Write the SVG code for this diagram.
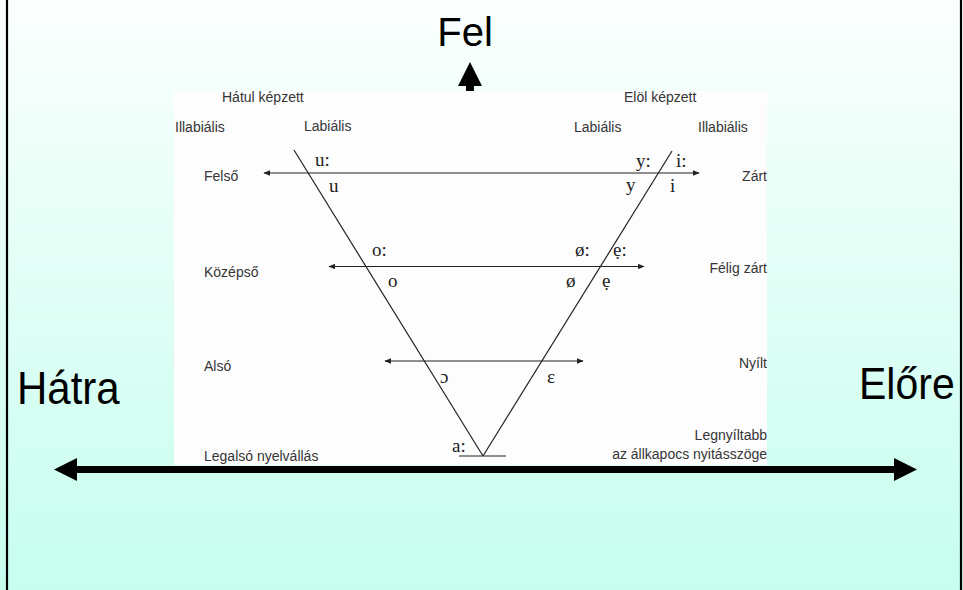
<svg xmlns="http://www.w3.org/2000/svg" width="963" height="590" viewBox="0 0 963 590">
  <defs>
    <linearGradient id="bg" x1="0" y1="0" x2="0" y2="1">
      <stop offset="0" stop-color="#fbfffe"/>
      <stop offset="1" stop-color="#c6feee"/>
    </linearGradient>
    <marker id="ah" viewBox="0 0 10 8" refX="9" refY="4" markerWidth="7" markerHeight="5.6" markerUnits="userSpaceOnUse" orient="auto-start-reverse">
      <path d="M0,0 L10,4 L0,8 z" fill="#222"/>
    </marker>
    <style>
      .lab { font-family: "Liberation Sans", Arial, sans-serif; font-size: 14px; fill: #353535; }
      .r { text-anchor: end; }
      .v { font-family: "Liberation Serif", "Times New Roman", serif; font-size: 19px; fill: #222; }
      .big { font-family: "Liberation Sans", Arial, sans-serif; fill: #000; }
      .thin { stroke: #222; stroke-width: 1.2; fill: none; }
      .arr { stroke: #222; stroke-width: 1.2; fill: none; marker-start: url(#ah); marker-end: url(#ah); }
    </style>
  </defs>

  <rect x="0" y="0" width="963" height="590" fill="url(#bg)"/>
  <line x1="7" y1="0" x2="7" y2="590" stroke="#000" stroke-width="2.2"/>
  <line x1="961" y1="0" x2="961" y2="590" stroke="#000" stroke-width="2.2"/>

  <rect x="174" y="91" width="593" height="374" fill="#fdfdfd"/>

  <g id="connectors">
    <line class="thin" x1="294" y1="150" x2="483" y2="456"/>
    <line class="thin" x1="672" y1="151" x2="483" y2="456"/>
    <line class="thin" x1="459" y1="456" x2="506" y2="456"/>
    <line class="arr" x1="264" y1="173" x2="699" y2="173"/>
    <line class="arr" x1="329" y1="266.5" x2="644" y2="266.5"/>
    <line class="arr" x1="385" y1="361" x2="583" y2="361"/>
    <g id="axis-horizontal">
      <rect x="76" y="466" width="819" height="7" fill="#000"/>
      <polygon points="54,469.5 77,458 77,481" fill="#000"/>
      <polygon points="917,469.5 894,458 894,481" fill="#000"/>
    </g>
    <g id="axis-up">
      <rect x="466" y="85" width="8" height="6" fill="#000"/>
      <polygon points="470,62 458,86 482,86" fill="#000"/>
    </g>
  </g>

  <g id="node-fel"><text class="big" x="465" y="46" font-size="40" text-anchor="middle">Fel</text></g>
  <g id="node-hatra"><text class="big" transform="translate(17,404) scale(1,1.08)" x="0" y="0" font-size="42">Hátra</text></g>
  <g id="node-elore"><text class="big" transform="translate(859,399) scale(1,1.08)" x="0" y="0" font-size="41">Előre</text></g>

  <g id="node-hatul"><text class="lab" x="222" y="102">Hátul képzett</text></g>
  <g id="node-elol"><text class="lab" x="624" y="102">Elöl képzett</text></g>
  <g id="node-illab-l"><text class="lab" x="175" y="132">Illabiális</text></g>
  <g id="node-lab-l"><text class="lab" x="304" y="131">Labiális</text></g>
  <g id="node-lab-r"><text class="lab" x="574" y="132">Labiális</text></g>
  <g id="node-illab-r"><text class="lab" x="698" y="132">Illabiális</text></g>

  <g id="node-felso"><text class="lab" x="204" y="181">Felső</text></g>
  <g id="node-kozepso"><text class="lab" x="204" y="277">Középső</text></g>
  <g id="node-also"><text class="lab" x="204" y="371">Alsó</text></g>
  <g id="node-legalso"><text class="lab" x="204" y="461">Legalsó nyelvállás</text></g>

  <g id="node-zart"><text class="lab r" x="767" y="181">Zárt</text></g>
  <g id="node-feligzart"><text class="lab r" x="767" y="273">Félig zárt</text></g>
  <g id="node-nyilt"><text class="lab r" x="767" y="368">Nyílt</text></g>
  <g id="node-legnyiltabb">
    <text class="lab r" x="767" y="440">Legnyíltabb</text>
    <text class="lab r" x="767" y="459">az állkapocs nyitásszöge</text>
  </g>

  <g id="vowels">
    <text class="v" x="315" y="166">u:</text>
    <text class="v" x="329" y="192">u</text>
    <text class="v" x="636" y="167">y:</text>
    <text class="v" x="676" y="167">i:</text>
    <text class="v" x="626" y="191">y</text>
    <text class="v" x="670" y="192">i</text>
    <text class="v" x="372" y="256">o:</text>
    <text class="v" x="388" y="287">o</text>
    <text class="v" x="575" y="256">ø:</text>
    <text class="v" x="613" y="256">ẹ:</text>
    <text class="v" x="566" y="287">ø</text>
    <text class="v" x="602" y="287">ẹ</text>
    <text class="v" x="440" y="383">ɔ</text>
    <text class="v" x="547" y="383" font-size="16">ε</text>
    <text class="v" x="452" y="452">a:</text>
  </g>
</svg>
